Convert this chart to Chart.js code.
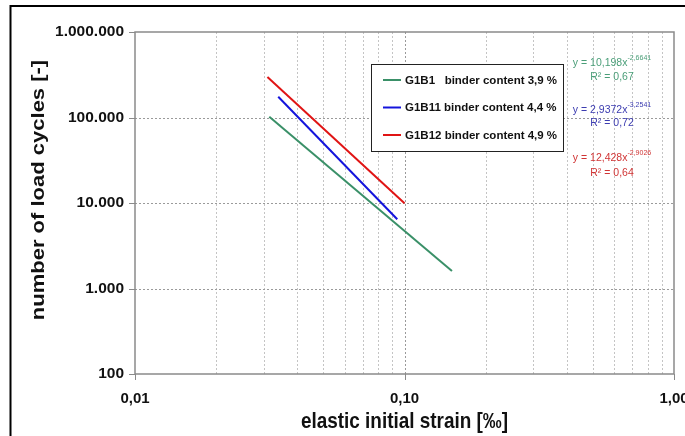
<!DOCTYPE html>
<html><head><meta charset="utf-8">
<script src="https://cdn.jsdelivr.net/npm/chart.js@4.4.0/dist/chart.umd.min.js"></script>
<style>html,body{margin:0;padding:0;background:#fff;}#wrap{width:685px;height:436px;}</style>
</head><body><div id="wrap"><canvas id="c" width="685" height="436"></canvas></div>
<script>
const seriesNames = ['G1B1   binder content 3,9 %', 'G1B11 binder content 4,4 %', 'G1B12 binder content 4,9 %'];
const seriesColors = ['#3a9068', '#1414dc', '#e01414'];
const eqColors = ['#4a9e78', '#3c3cb0', '#d03434'];
const g1b1Strain = [0.0315, 0.15];
const g1b1Cycles = [102000, 1600];
const g1b11Strain = [0.034, 0.094];
const g1b11Cycles = [175000, 6450];
const g1b12Strain = [0.031, 0.10];
const g1b12Cycles = [297000, 9930];
const xTickValues = [0.01, 0.1, 1];
const xTickLabels = ['0,01', '0,10', '1,00'];
const yTickValues = [100, 1000, 10000, 100000, 1000000];
const yTickLabels = ['100', '1.000', '10.000', '100.000', '1.000.000'];
const eqTexts = ['y = 10,198x', 'y = 2,9372x', 'y = 12,428x'];
const eqExponents = ['-2,6641', '-3,2541', '-2,9026'];
const r2Texts = ['R² = 0,67', 'R² = 0,72', 'R² = 0,64'];
const xTitle = 'elastic initial strain [‰]';
const yTitle = 'number of load cycles [-]';

const FONT = "'Liberation Sans', Arial, sans-serif";
const pts = (xs, ys) => xs.map((x, i) => ({x: x, y: ys[i]}));
const seriesData = [pts(g1b1Strain, g1b1Cycles), pts(g1b11Strain, g1b11Cycles), pts(g1b12Strain, g1b12Cycles)];

const decorPlugin = {
  id: 'decor',
  beforeDatasetsDraw(chart) {
    const ctx = chart.ctx, a = chart.chartArea, xs = chart.scales.x, ys = chart.scales.y;
    ctx.save();
    ctx.lineWidth = 1;
    ctx.setLineDash([2, 2]);
    for (let d = 0; d < xTickValues.length - 1; d++) {
      const base = xTickValues[d];
      for (let m = 1; m <= 9; m++) {
        if (m === 1 && d === 0) continue;
        const px = Math.round(xs.getPixelForValue(base * m)) + 0.5;
        ctx.strokeStyle = m === 1 ? '#9a9a9a' : '#c4c4c4';
        ctx.beginPath(); ctx.moveTo(px, a.top); ctx.lineTo(px, a.bottom); ctx.stroke();
      }
    }
    yTickValues.slice(1, -1).forEach(v => {
      const py = Math.round(ys.getPixelForValue(v)) + 0.5;
      ctx.strokeStyle = '#9a9a9a';
      ctx.beginPath(); ctx.moveTo(a.left, py); ctx.lineTo(a.right, py); ctx.stroke();
    });
    ctx.setLineDash([]);
    ctx.strokeStyle = '#8a8a8a';
    ctx.lineWidth = 1.5;
    ctx.strokeRect(a.left, a.top, a.right - a.left, a.bottom - a.top);
    ctx.lineWidth = 1;
    yTickValues.forEach(v => {
      const py = Math.round(ys.getPixelForValue(v)) + 0.5;
      ctx.beginPath(); ctx.moveTo(a.left - 6, py); ctx.lineTo(a.left, py); ctx.stroke();
    });
    xTickValues.forEach(v => {
      const px = Math.round(xs.getPixelForValue(v)) + 0.5;
      ctx.beginPath(); ctx.moveTo(px, a.bottom); ctx.lineTo(px, a.bottom + 6); ctx.stroke();
    });
    ctx.restore();
  },
  afterDatasetsDraw(chart) {
    const ctx = chart.ctx, a = chart.chartArea;
    ctx.save();
    // legend box
    const lx = 371, ly = 64, lw = 192, lh = 87;
    ctx.fillStyle = '#ffffff';
    ctx.fillRect(lx, ly, lw, lh);
    ctx.strokeStyle = '#222';
    ctx.lineWidth = 1;
    ctx.strokeRect(lx + 0.5, ly + 0.5, lw, lh);
    const rows = [80, 107.5, 135];
    chart.data.datasets.forEach((ds, i) => {
      ctx.strokeStyle = ds.borderColor;
      ctx.lineWidth = 2;
      ctx.beginPath(); ctx.moveTo(383, rows[i]); ctx.lineTo(401, rows[i]); ctx.stroke();
      ctx.fillStyle = '#111';
      ctx.font = 'bold 11.5px ' + FONT;
      ctx.textBaseline = 'middle';
      ctx.textAlign = 'left';
      ctx.fillText(ds.label, 405, rows[i] + 0.5);
    });
    // trendline equations
    const eqY = [63, 110, 158];
    const r2Y = [77, 123.5, 173];
    const cx = 612;
    eqTexts.forEach((t, i) => {
      ctx.fillStyle = eqColors[i];
      ctx.textBaseline = 'middle';
      ctx.textAlign = 'left';
      ctx.font = '10.5px ' + FONT;
      const w1 = ctx.measureText(t).width;
      ctx.font = '7px ' + FONT;
      const w2 = ctx.measureText(eqExponents[i]).width;
      const sx = cx - (w1 + w2) / 2;
      ctx.font = '10.5px ' + FONT;
      ctx.fillText(t, sx, eqY[i]);
      ctx.font = '7px ' + FONT;
      ctx.fillText(eqExponents[i], sx + w1, eqY[i] - 5);
      ctx.font = '10.5px ' + FONT;
      ctx.textAlign = 'center';
      ctx.fillText(r2Texts[i], cx, r2Y[i]);
    });
    // axis titles
    ctx.fillStyle = '#111';
    ctx.font = 'bold 22px ' + FONT;
    ctx.textAlign = 'center';
    ctx.textBaseline = 'middle';
    ctx.save();
    ctx.translate((a.left + a.right) / 2, 422);
    ctx.scale(0.86, 1);
    ctx.fillText(xTitle, 0, 0);
    ctx.restore();
    ctx.save();
    ctx.translate(39, 190);
    ctx.rotate(-Math.PI / 2);
    ctx.scale(1, 0.86);
    ctx.fillText(yTitle, 0, 0);
    ctx.restore();
    ctx.restore();
  },
  afterDraw(chart) {
    const ctx = chart.ctx;
    ctx.save();
    ctx.strokeStyle = '#000';
    ctx.lineWidth = 2;
    ctx.beginPath();
    ctx.moveTo(10.5, 436); ctx.lineTo(10.5, 6); ctx.lineTo(685, 6);
    ctx.stroke();
    ctx.restore();
  }
};

new Chart(document.getElementById('c'), {
  type: 'scatter',
  data: {
    datasets: seriesData.map((d, i) => ({
      label: seriesNames[i],
      data: d,
      showLine: true,
      borderColor: seriesColors[i],
      backgroundColor: seriesColors[i],
      borderWidth: 2,
      pointRadius: 0,
      tension: 0
    }))
  },
  options: {
    responsive: false,
    animation: false,
    layout: {padding: {top: 32, right: 11, left: 0, bottom: 0}},
    plugins: {legend: {display: false}, tooltip: {enabled: false}},
    scales: {
      x: {
        type: 'logarithmic',
        position: 'bottom',
        min: 0.01, max: 1,
        grid: {display: false, drawTicks: false},
        border: {display: false},
        afterBuildTicks: s => { s.ticks = xTickValues.map(v => ({value: v})); },
        afterFit: s => { s.height = 62; s.paddingLeft = 0; s.paddingRight = 0; },
        ticks: {
          autoSkip: false, maxRotation: 0, padding: 16,
          color: '#111',
          font: {family: FONT, size: 15, weight: 'bold'},
          callback: (v) => { const i = xTickValues.findIndex(t => Math.abs(t - v) < 1e-9); return i >= 0 ? xTickLabels[i] : ''; }
        },
        title: {display: false}
      },
      y: {
        type: 'logarithmic',
        position: 'left',
        min: 100, max: 1000000,
        grid: {display: false, drawTicks: false},
        border: {display: false},
        afterBuildTicks: s => { s.ticks = yTickValues.map(v => ({value: v})); },
        afterFit: s => { s.width = 135; s.paddingTop = 0; s.paddingBottom = 0; },
        ticks: {
          autoSkip: false, padding: 11,
          color: '#111',
          font: {family: FONT, size: 15.5, weight: 'bold'},
          callback: (v) => { const i = yTickValues.findIndex(t => Math.abs(t - v) < 1e-6); return i >= 0 ? yTickLabels[i] : ''; }
        },
        title: {display: false}
      }
    }
  },
  plugins: [decorPlugin]
});
</script>
</body></html>
